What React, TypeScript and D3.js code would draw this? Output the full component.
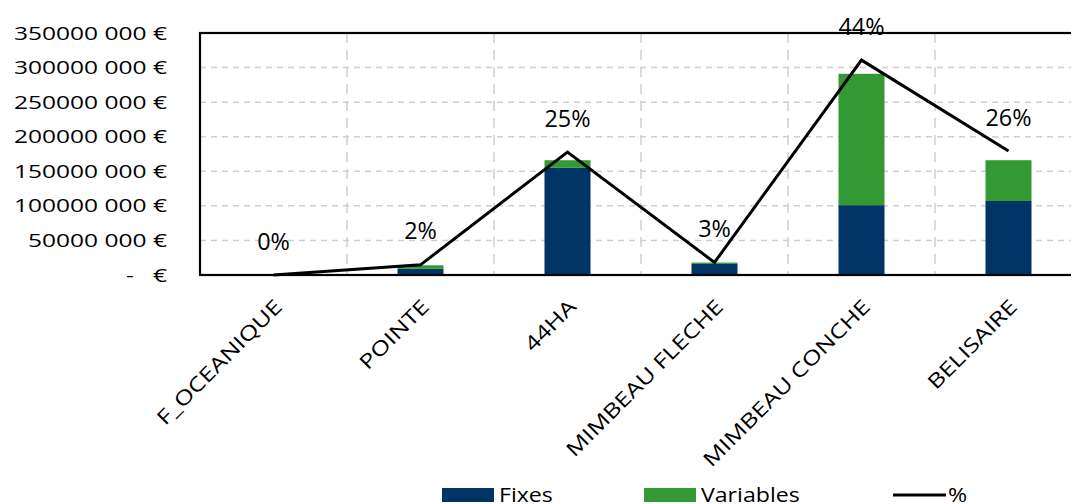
import * as d3 from 'd3';

const categories = ['F_OCEANIQUE', 'POINTE', '44HA', 'MIMBEAU FLECHE', 'MIMBEAU CONCHE', 'BELISAIRE'];
const fixes = [0, 9e6, 155e6, 16e6, 101e6, 107e6];
const variables = [0, 5e6, 11e6, 2e6, 190e6, 59e6];
const shares = [0, 0.021, 0.254, 0.026, 0.444, 0.256];
const yTicks = [0, 50e6, 100e6, 150e6, 200e6, 250e6, 300e6, 350e6];
const legendItems = ['Fixes', 'Variables', '%'];

const W = 1071;
const H = 504;
const plot = { left: 200, right: 1082, top: 33, bottom: 275 };
const colors: Record<string, string> = { Fixes: '#003366', Variables: '#339933' };
const font = "'Open Sans', sans-serif";

const fmtEuro = (v: number) => {
  if (v === 0) return '-   €';
  const s = String(v);
  return `${s.slice(0, -3)} ${s.slice(-3)} €`;
};
const fmtPct = d3.format('.0%');

export default function App() {
  const x = d3.scaleBand<string>().domain(categories).range([plot.left, plot.right]);
  const y = d3.scaleLinear().domain([0, 350e6]).range([plot.bottom, plot.top]);
  const y2 = d3.scaleLinear().domain([0, 0.5]).range([plot.bottom, plot.top]);
  const step = x.step();
  const barW = 46;
  const cx = (c: string) => (x(c) ?? 0) + step / 2;

  const rows = categories.map((c, i) => ({ cat: c, Fixes: fixes[i], Variables: variables[i] }));
  const stacked = d3.stack<any>().keys(['Fixes', 'Variables'])(rows);

  const line = d3
    .line<number>()
    .x((_, i) => cx(categories[i]))
    .y((d) => y2(d));

  const legendX = [442, 644, 893];

  return (
    <svg
      width={W}
      height={H}
      style={{ position: 'absolute', left: 0, top: 0, background: '#fff' }}
      fontFamily={font}
    >
      {/* grid */}
      {yTicks.slice(1).map((t) => (
        <line key={t} x1={plot.left} x2={plot.right} y1={y(t)} y2={y(t)} stroke="#cfcfcf" strokeWidth={1.5} strokeDasharray="6,5" />
      ))}
      {categories.slice(0, -1).map((c) => (
        <line key={c} x1={(x(c) ?? 0) + step} x2={(x(c) ?? 0) + step} y1={plot.top} y2={plot.bottom} stroke="#cfcfcf" strokeWidth={1.5} strokeDasharray="10,7" />
      ))}

      {/* bars */}
      {stacked.map((s) => (
        <g key={s.key} fill={colors[s.key]}>
          {s.map((d, i) => (
            <rect key={i} x={cx(categories[i]) - barW / 2} width={barW} y={y(d[1])} height={y(d[0]) - y(d[1])} />
          ))}
        </g>
      ))}

      {/* frame */}
      <rect x={plot.left} y={plot.top} width={plot.right - plot.left} height={plot.bottom - plot.top} fill="none" stroke="#000" strokeWidth={2.2} />

      {/* share line */}
      <path d={line(shares) ?? ''} fill="none" stroke="#000" strokeWidth={3} strokeLinejoin="miter" />
      {shares.map((s, i) => (
        <text key={i} x={cx(categories[i])} y={y2(s) - 25.5} textAnchor="middle" fontSize={23.4} fill="#000">
          {fmtPct(s)}
        </text>
      ))}

      {/* y axis labels */}
      {yTicks.map((t) => (
        <text
          key={t}
          transform={`translate(167,${y(t) + 6.6}) scale(1.32,1)`}
          textAnchor="end"
          fontSize={18.6}
          fill="#000"
          style={{ whiteSpace: 'pre' }}
        >
          {fmtEuro(t)}
        </text>
      ))}

      {/* category labels */}
      {categories.map((c) => (
        <text
          key={c}
          transform={`translate(${cx(c) + 10},308) rotate(-45) scale(1.26,1)`}
          textAnchor="end"
          fontSize={20}
          fill="#000"
        >
          {c}
        </text>
      ))}

      {/* legend */}
      {legendItems.map((k, i) =>
        k === '%' ? (
          <g key={k}>
            <line x1={legendX[i]} x2={legendX[i] + 53} y1={495} y2={495} stroke="#000" strokeWidth={3} />
            <text transform={`translate(${legendX[i] + 55},501.5) scale(1.18,1)`} fontSize={19.6}>
              {k}
            </text>
          </g>
        ) : (
          <g key={k}>
            <rect x={legendX[i]} y={488} width={52} height={14} fill={colors[k]} />
            <text transform={`translate(${legendX[i] + 57},501.5) scale(1.18,1)`} fontSize={19.6}>
              {k}
            </text>
          </g>
        ),
      )}
    </svg>
  );
}
